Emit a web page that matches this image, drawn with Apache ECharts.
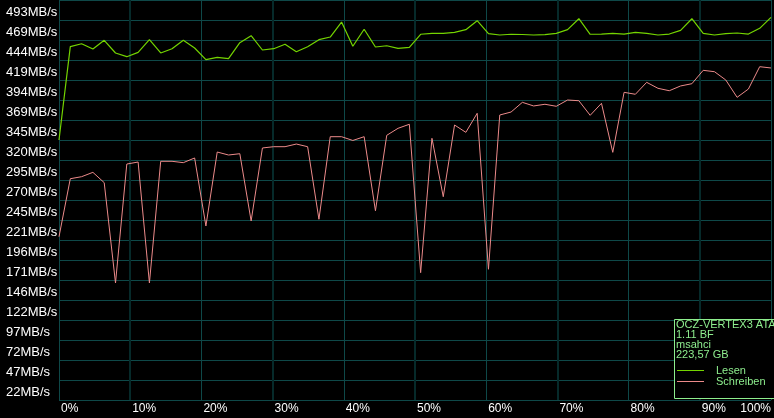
<!DOCTYPE html>
<html>
<head>
<meta charset="utf-8">
<script src="https://cdn.jsdelivr.net/npm/echarts@6/dist/echarts.min.js"></script>
<style>
html,body{margin:0;padding:0;background:#000;}
#c{width:774px;height:418px;}
</style>
</head>
<body>
<div id="c"></div>
<script>
// Y tick labels (bottom to top)
const yLabels = ['22MB/s','47MB/s','72MB/s','97MB/s','122MB/s','146MB/s','171MB/s','196MB/s','221MB/s','245MB/s',
  '270MB/s','295MB/s','320MB/s','345MB/s','369MB/s','394MB/s','419MB/s','444MB/s','469MB/s','493MB/s'];
// X tick labels
const xLabels = ['0%','10%','20%','30%','40%','50%','60%','70%','80%','90%','100%'];
// Read speed (MB/s), green
const lesen = [344.1,459.8,463.5,456.9,467.7,452.0,447.4,452.8,468.5,452.0,
  457.3,467.7,458.2,443.7,446.6,444.9,464.8,473.4,455.7,457.3,
  462.8,453.6,459.8,468.5,471.8,490.4,460.3,481.4,459.4,461.0,
  457.8,459.0,475.2,476.4,476.4,477.6,480.9,492.0,475.9,474.3,
  475.2,474.9,474.3,474.7,476.4,480.9,494.5,475.2,475.5,476.4,
  475.5,477.6,476.4,474.3,475.5,480.1,494.5,476.4,474.3,475.9,
  476.8,475.5,482.6,496.2];
// Write speed (MB/s), pink
const schreiben = [224.2,296.1,298.6,304.0,291.2,166.8,314.3,316.8,166.8,317.7,
  317.7,316.0,321.8,237.5,329.2,325.5,327.1,243.7,334.2,335.8,
  335.8,339.1,335.8,245.8,348.2,348.2,343.5,348.2,256.4,349.9,
  358.6,363.6,179.6,346.2,273.8,362.7,353.6,377.2,183.8,375.1,
  378.8,390.8,386.3,388.4,385.9,393.7,392.8,374.7,389.6,328.8,
  403.2,400.8,415.6,408.2,405.2,411.1,413.9,430.5,428.8,418.5,
  397.0,407.3,435.0,433.4];
const seriesNames = ['Lesen','Schreiben'];
const driveInfo = ['OCZ-VERTEX3 ATA','1.11 BF','msahci','223,57 GB'];

const Y_MIN = 21.7, Y_STEP = 24.8, Y_MAX = 517.7;
const samples = lesen.map((_, i) => String(i));
const FONT = '"Liberation Sans", Arial, sans-serif';
const GREEN = '#74d400';
const PINK = '#ec8a8a';
const INFO = '#8eee8e';

const chart = echarts.init(document.getElementById('c'), null, {renderer: 'canvas'});
chart.setOption({
  animation: false,
  backgroundColor: '#000',
  grid: {left: 59, top: 0, width: 715, height: 400, containLabel: false},
  title: {
    text: driveInfo.join('\n'),
    left: 676, top: 320, padding: 0, z: 20,
    textStyle: {color: INFO, fontSize: 11, fontWeight: 'normal', lineHeight: 10, fontFamily: FONT}
  },
  legend: {
    orient: 'vertical', left: 677, top: 365, padding: 0, z: 20,
    itemWidth: 27, itemHeight: 1, itemGap: 0, icon: 'rect',
    data: seriesNames,
    textStyle: {color: INFO, fontSize: 11, lineHeight: 10, fontFamily: FONT, padding: [0, 0, 0, 7]}
  },
  graphic: [{
    type: 'rect', x: 674.5, y: 319.5, z: 15,
    shape: {x: 0, y: 0, width: 110, height: 79},
    style: {fill: '#000', stroke: INFO, lineWidth: 1}
  }],
  xAxis: [
    {type: 'category', data: samples, boundaryGap: false, show: false},
    {type: 'value', min: 0, max: 100, interval: 20, position: 'bottom',
     axisLine: {show: false}, axisTick: {show: false}, axisLabel: {show: false},
     splitLine: {show: true, lineStyle: {color: '#0e4848', width: 1}}},
    {type: 'value', min: 0, max: 100, interval: 10, position: 'bottom',
     axisLine: {show: false}, axisTick: {show: false},
     axisLabel: {
       formatter: v => xLabels[Math.round(v / 10)] || '',
       color: '#fff', fontSize: 12, fontFamily: FONT,
       align: 'left', alignMaxLabel: 'right', margin: 3, padding: [0, 0, 0, 2]
     },
     splitLine: {show: true, lineStyle: {color: ['rgba(0,0,0,0)', '#062a2a'], width: 2}}}
  ],
  yAxis: {
    type: 'value', min: Y_MIN, max: Y_MAX, interval: Y_STEP,
    axisLine: {show: false}, axisTick: {show: false},
    splitLine: {show: true, lineStyle: {color: '#0e4848', width: 1}},
    axisLabel: {
      formatter: v => yLabels[Math.round((v - Y_MIN) / Y_STEP)] || '',
      color: '#fff', fontSize: 13, fontFamily: FONT,
      align: 'left', margin: 53, verticalAlign: 'bottom', padding: [0, 0, 1, 0]
    }
  },
  series: [
    {name: seriesNames[0], type: 'line', xAxisIndex: 0, data: lesen, symbol: 'none',
     color: GREEN, lineStyle: {color: GREEN, width: 1.2}, z: 3},
    {name: seriesNames[1], type: 'line', xAxisIndex: 0, data: schreiben, symbol: 'none',
     color: PINK, lineStyle: {color: PINK, width: 1}, z: 3}
  ]
});
</script>
</body>
</html>
